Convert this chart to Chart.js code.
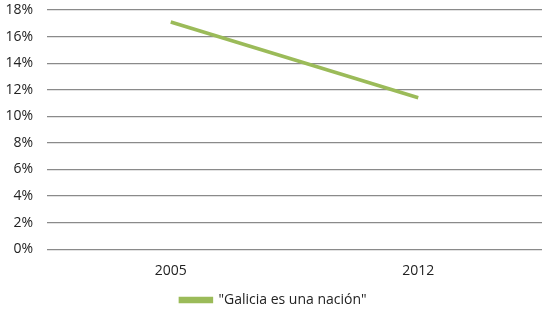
<!DOCTYPE html>
<html>
<head>
<meta charset="utf-8">
<script src="https://cdn.jsdelivr.net/npm/chart.js@4/dist/chart.umd.min.js"></script>
<style>
  html, body { margin: 0; padding: 0; background: #fff; }
  #wrap { width: 550px; height: 317px; }
</style>
</head>
<body>
<div id="wrap"><canvas id="myChart"></canvas></div>
<script>
var years = ["2005", "2012"];
var nacion = [17.1, 11.4];
var seriesName = "\"Galicia es una nación\"";

var ctx = document.getElementById('myChart').getContext('2d');
var txt = { family: "Open Sans", size: 14 };

var myChart = new Chart(ctx, {
    type: 'line',
    data: {
        labels: years,
        datasets: [{
            label: seriesName,
            data: nacion,
            borderColor: "#9bbb59",
            backgroundColor: "#9bbb59",
            borderWidth: 3.5,
            pointRadius: 0,
            tension: 0
        }]
    },
    options: {
        responsive: true,
        maintainAspectRatio: false,
        animation: false,
        layout: { padding: { top: 0, right: 8, left: 5, bottom: 0 } },
        plugins: {
            legend: {
                position: 'bottom',
                labels: {
                    font: txt,
                    color: "#222",
                    boxWidth: 31,
                    boxHeight: 3,
                    padding: 1
                }
            },
            tooltip: { enabled: false }
        },
        scales: {
            x: {
                offset: true,
                grid: { display: false, drawTicks: false },
                border: { display: false },
                ticks: { font: txt, color: "#222", padding: 13 },
                afterFit: function (s) { s.paddingLeft = 0; s.paddingRight = 0; }
            },
            y: {
                min: 0,
                max: 18,
                grid: { color: "#8a8a8a", lineWidth: 1.3, drawTicks: false },
                border: { display: false },
                ticks: {
                    stepSize: 2,
                    padding: 14,
                    font: txt,
                    color: "#222",
                    callback: function (v) { return v + "%"; }
                },
                // tick padding also pads the top, pull the plot back up
                afterFit: function (s) { s.paddingTop = 10; s.width = 42; }
            }
        }
    }
});
</script>
</body>
</html>
